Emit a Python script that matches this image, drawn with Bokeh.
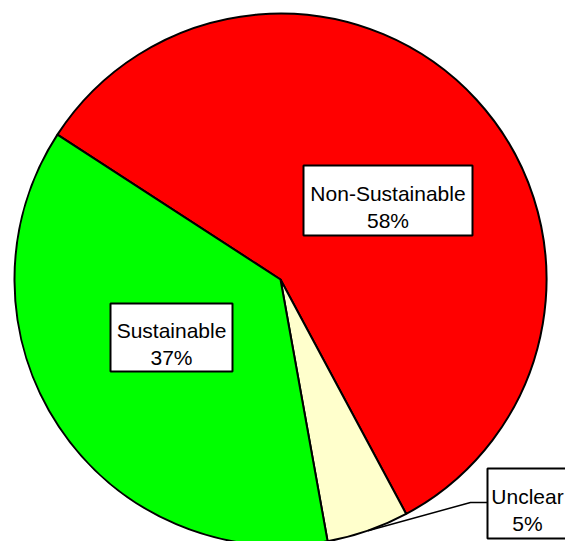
import math

from bokeh.core.properties import value
from bokeh.embed import file_html
from bokeh.models import Range1d
from bokeh.plotting import figure
from bokeh.resources import INLINE

# Share of assessed items by sustainability status
categories = ["Non-Sustainable", "Unclear", "Sustainable"]
shares = [58, 5, 37]
slice_colors = ["#ff0000", "#ffffcc", "#00ff00"]

W, H = 565, 541


def sy(y):
    """Convert a top-down pixel row into the plot's bottom-up y."""
    return H - y


p = figure(
    width=W,
    height=H,
    x_range=Range1d(0, W),
    y_range=Range1d(0, H),
    output_backend="svg",
    toolbar_location=None,
    min_border=0,
)
p.axis.visible = False
p.grid.visible = False
p.outline_line_color = None
p.background_fill_color = "white"
p.border_fill_color = "white"

cx, cy, r = 280, sy(279), 266
start_deg = 147.0

# Slices run clockwise from the start angle
starts, ends, mids = [], [], []
a = start_deg
for s in shares:
    span = s / sum(shares) * 360.0
    starts.append(math.radians(a))
    ends.append(math.radians(a - span))
    mids.append(math.radians(a - span / 2))
    a -= span

p.wedge(
    x=[cx] * len(shares),
    y=[cy] * len(shares),
    radius=r,
    start_angle=starts,
    end_angle=ends,
    direction="clock",
    fill_color=slice_colors,
    line_color="black",
    line_width=2,
)

# Leader line from the small slice to its label
mi = mids[1]
ex, ey = cx + r * math.cos(mi), cy + r * math.sin(mi)
p.line(x=[ex, 470, 487], y=[ey, sy(502), sy(502)], line_color="black", line_width=1.5)

# Label boxes: (centre x, centre y, width, height) in pixel rows
boxes = {
    "Non-Sustainable": (387.5, 200, 169, 70),
    "Unclear": (527, 503, 80, 70),
    "Sustainable": (171, 337, 122, 68),
}

for name, s in zip(categories, shares):
    bx, by, bw, bh = boxes[name]
    p.rect(
        x=[bx], y=[sy(by)], width=bw, height=bh,
        fill_color="white", line_color="black", line_width=2,
    )
    p.text(
        x=[bx, bx],
        y=[sy(by - 7.5), sy(by + 20)],
        text=[name, f"{s}%"],
        text_font=value("Liberation Sans"),
        text_font_size="21px",
        text_color="black",
        text_align="center",
        text_baseline="alphabetic",
    )

open("out.html", "w").write(file_html(p, INLINE))
